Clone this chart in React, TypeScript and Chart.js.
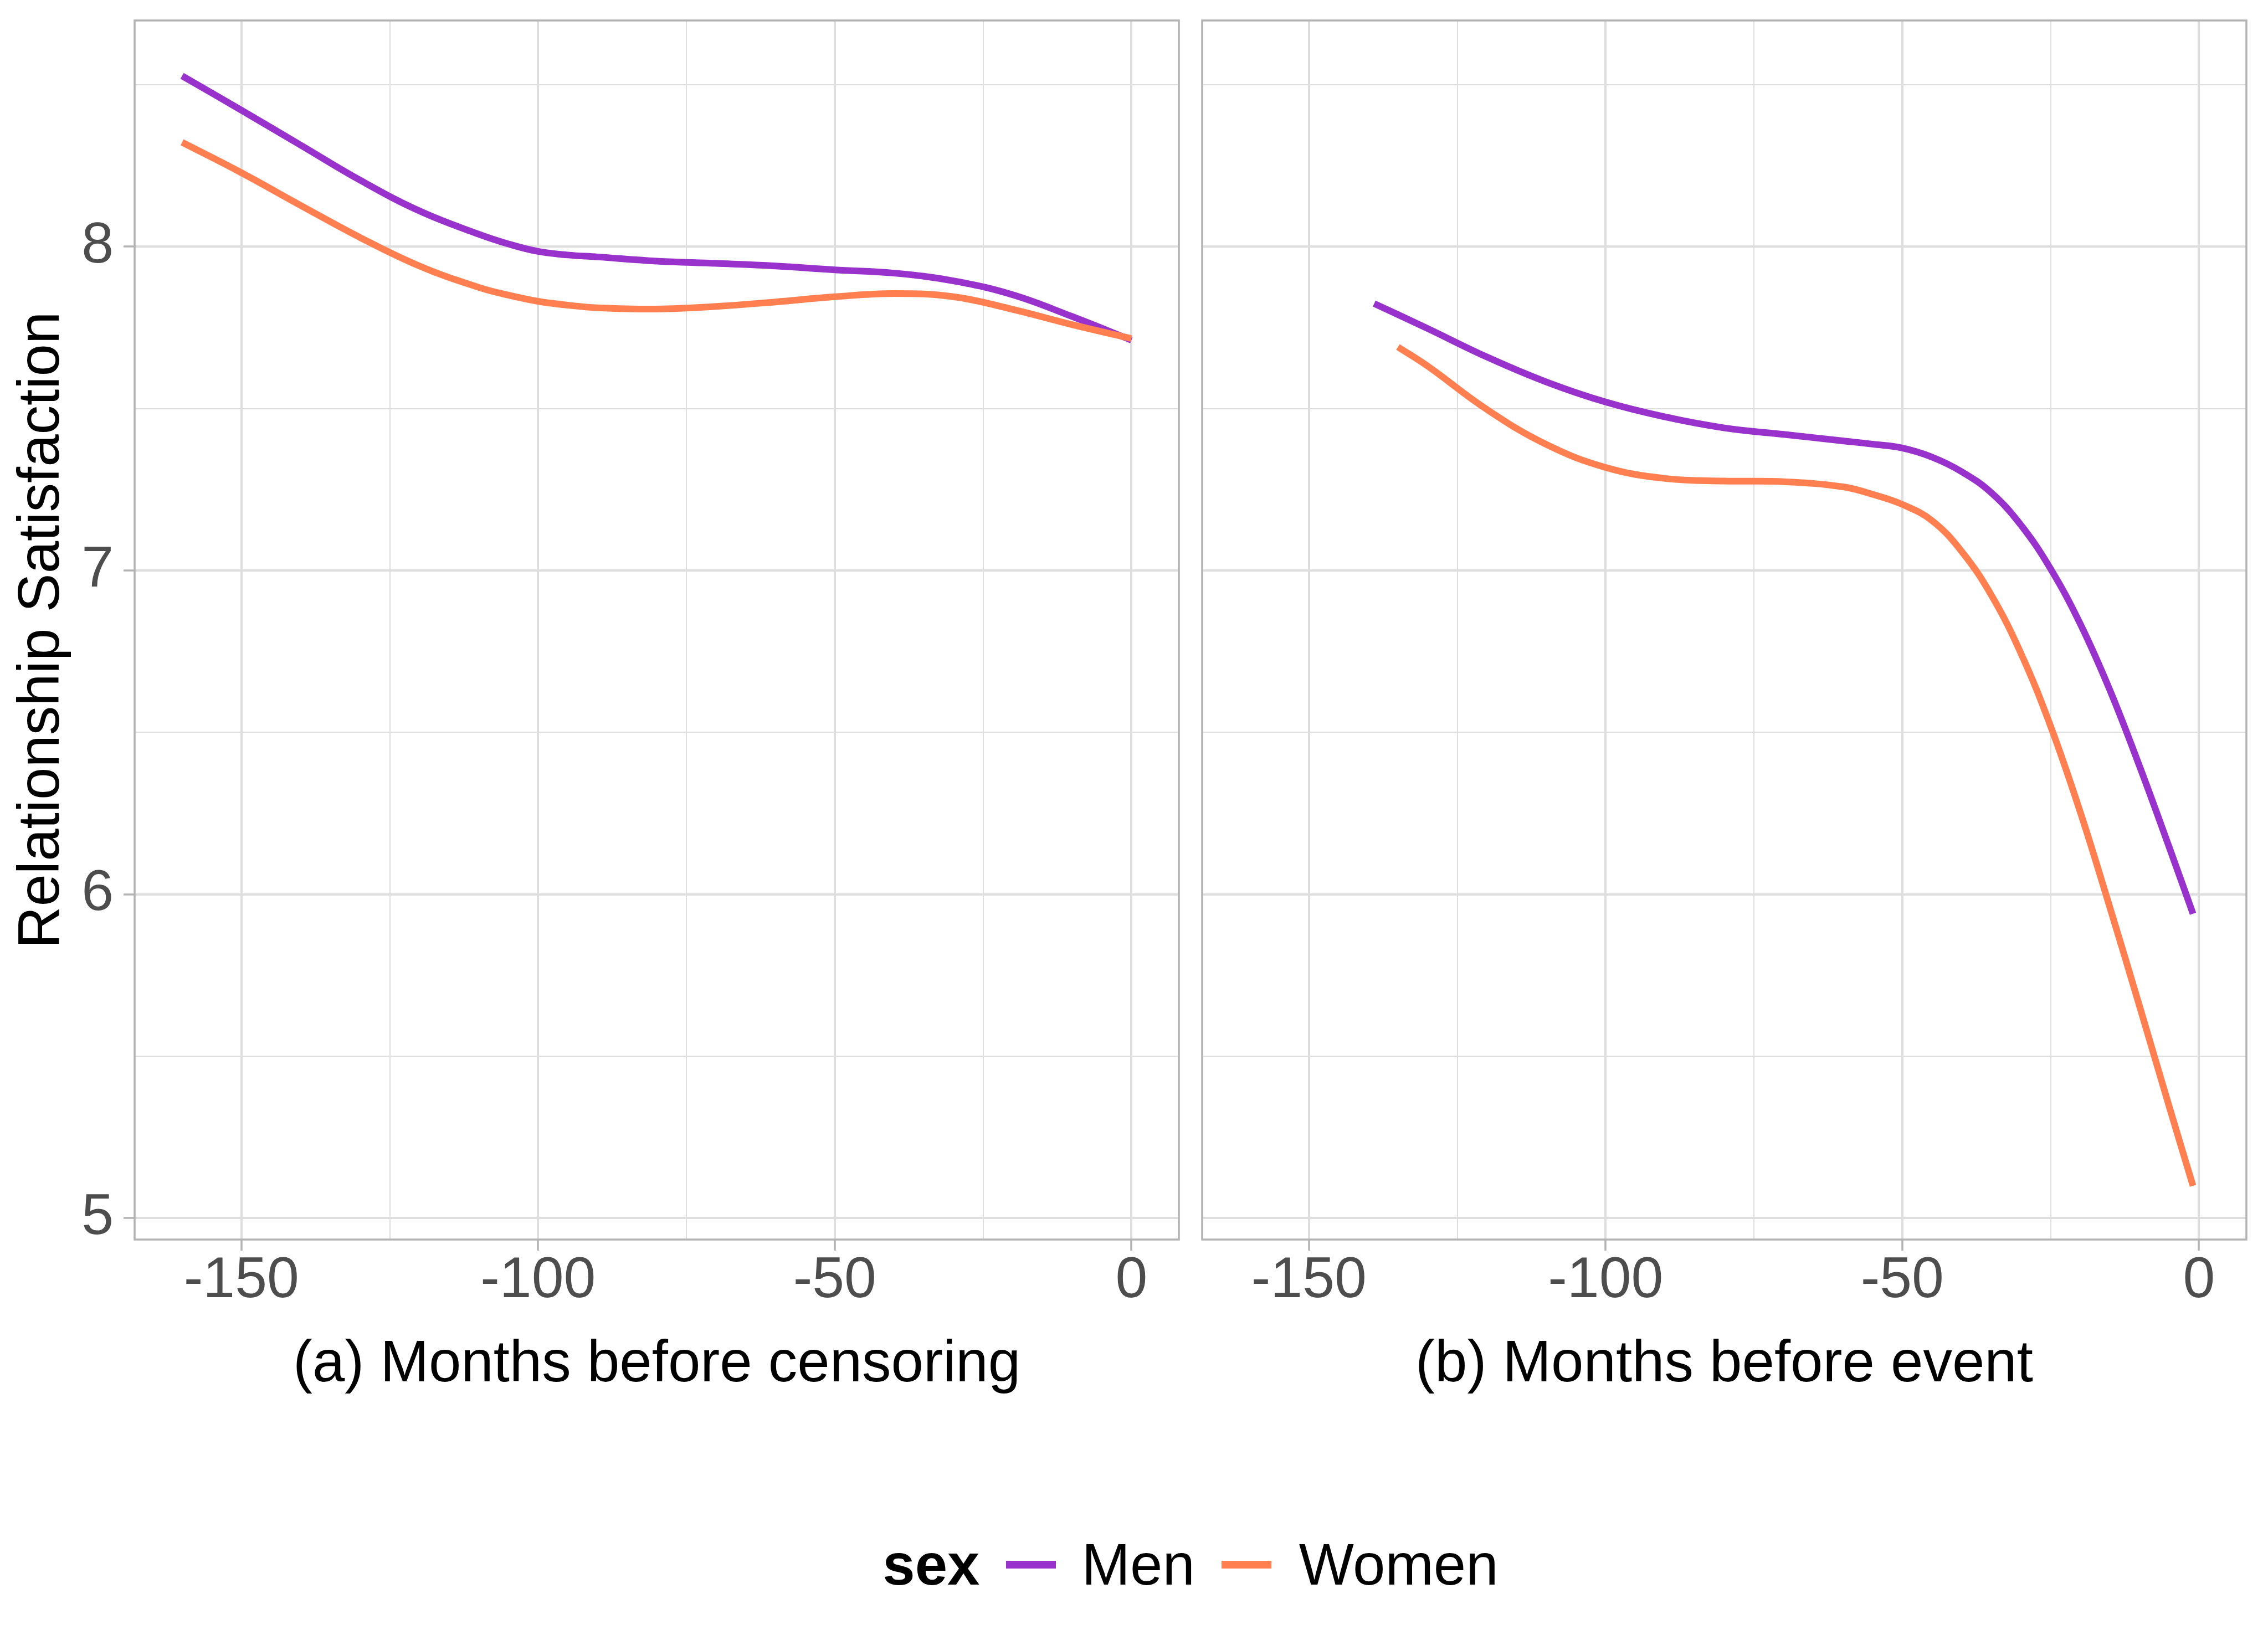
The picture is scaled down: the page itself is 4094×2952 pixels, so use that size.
import { useEffect, useRef } from "react";
import { Chart, registerables } from "chart.js";

Chart.register(...registerables);

const MEN_COLOR = "#9932CC";
const WOMEN_COLOR = "#FF7F50";
const FONT = "'Liberation Sans', Arial, sans-serif";

// (a) months before censoring
const monthsA = [-160, -150, -140, -130, -120, -110, -105, -100, -95, -90, -80, -70, -60, -50, -40, -30, -20, -10, 0];
const menA = [8.527, 8.421, 8.313, 8.205, 8.11, 8.038, 8.008, 7.985, 7.974, 7.968, 7.955, 7.948, 7.94, 7.928, 7.918, 7.894, 7.851, 7.784, 7.711];
const womenA = [8.322, 8.228, 8.127, 8.028, 7.94, 7.874, 7.85, 7.831, 7.819, 7.811, 7.807, 7.815, 7.829, 7.845, 7.855, 7.845, 7.806, 7.759, 7.716];

// (b) months before event
const monthsMenB = [-139, -130, -120, -110, -100, -90, -80, -70, -60, -55, -50, -45, -40, -35, -30, -25, -20, -15, -10, -5, -1];
const menB = [7.824, 7.747, 7.659, 7.582, 7.52, 7.474, 7.44, 7.42, 7.4, 7.39, 7.378, 7.35, 7.305, 7.24, 7.14, 7.005, 6.835, 6.63, 6.395, 6.145, 5.94];
const monthsWomenB = [-135, -130, -120, -110, -100, -90, -80, -70, -60, -55, -50, -45, -40, -35, -30, -25, -20, -15, -10, -5, -1];
const womenB = [7.69, 7.631, 7.497, 7.389, 7.318, 7.284, 7.276, 7.274, 7.258, 7.235, 7.204, 7.154, 7.059, 6.924, 6.744, 6.519, 6.254, 5.959, 5.654, 5.344, 5.1];

const xMajor = [-150, -100, -50, 0];
const xMinor = [-125, -75, -25];
const yMajor = [5, 6, 7, 8];
const yMinor = [5.5, 6.5, 7.5, 8.5];

const CANVAS_H = 2600;
const PANEL_TOP = 37;
const PANEL_BOTTOM = 2238;

const panelBorder = {
  id: "panelBorder",
  afterDraw(chart: any) {
    const { ctx, chartArea: a } = chart;
    ctx.save();
    ctx.strokeStyle = "#B3B3B3";
    ctx.lineWidth = 3.5;
    ctx.strokeRect(a.left, a.top, a.right - a.left, a.bottom - a.top);
    ctx.restore();
  },
};

const noPadding = (s: any) => {
  s.paddingLeft = 0;
  s.paddingRight = 0;
  s.paddingTop = 0;
  s.paddingBottom = 0;
};

function gridFor(major: number[], drawTicks: boolean) {
  return {
    color: "#DEDEDE",
    lineWidth: (c: any) => (major.includes(c.tick?.value) ? 4 : 2),
    tickColor: (c: any) => (major.includes(c.tick?.value) ? "#B3B3B3" : "rgba(0,0,0,0)"),
    tickLength: 20,
    tickWidth: 3.5,
    drawTicks,
  };
}

function xAxis(title: string) {
  return {
    type: "linear",
    min: -168,
    max: 8,
    afterBuildTicks: (s: any) => {
      s.ticks = [...xMajor, ...xMinor].sort((a, b) => a - b).map((value) => ({ value }));
    },
    afterFit: (s: any) => {
      s.height = CANVAS_H - PANEL_BOTTOM;
      noPadding(s);
    },
    ticks: {
      autoSkip: false,
      maxRotation: 0,
      callback: (v: any) => (xMajor.includes(v) ? String(v) : ""),
      color: "#4D4D4D",
      font: { family: FONT, size: 104, lineHeight: 1 },
      padding: 3,
    },
    grid: gridFor(xMajor, true),
    border: { display: false },
    title: {
      display: true,
      text: title,
      color: "#000000",
      font: { family: FONT, size: 105, lineHeight: 1 },
      padding: { top: 0, bottom: 82 },
    },
  };
}

function yAxis(showLabels: boolean, width: number) {
  return {
    type: "linear",
    min: 4.934,
    max: 8.698,
    afterBuildTicks: (s: any) => {
      s.ticks = [...yMajor, ...yMinor].sort((a, b) => a - b).map((value) => ({ value }));
    },
    afterFit: (s: any) => {
      s.width = width;
      noPadding(s);
    },
    ticks: {
      display: showLabels,
      autoSkip: false,
      callback: (v: any) => (yMajor.includes(v) ? String(v) : ""),
      color: "#4D4D4D",
      font: { family: FONT, size: 104, lineHeight: 1 },
      padding: 18,
    },
    grid: gridFor(yMajor, showLabels),
    border: { display: false },
    title: {
      display: showLabels,
      text: "Relationship Satisfaction",
      color: "#000000",
      font: { family: FONT, size: 105, lineHeight: 1 },
      padding: { top: 25, bottom: 0 },
    },
  };
}

function series(label: string, xs: number[], ys: number[], color: string, order: number) {
  return {
    label,
    data: xs.map((x, i) => ({ x, y: ys[i] })),
    borderColor: color,
    backgroundColor: color,
    borderWidth: 12,
    borderCapStyle: "butt",
    pointRadius: 0,
    tension: 0.4,
    fill: false,
    order,
  };
}

function makeChart(canvas: HTMLCanvasElement, datasets: any[], title: string, showY: boolean, yWidth: number, padRight: number) {
  return new Chart(canvas, {
    type: "line",
    data: { datasets },
    options: {
      animation: false,
      responsive: true,
      maintainAspectRatio: false,
      devicePixelRatio: 1,
      layout: { padding: { top: PANEL_TOP, right: padRight, left: 0, bottom: 0 } },
      plugins: { legend: { display: false }, tooltip: { enabled: false } },
      scales: { x: xAxis(title), y: yAxis(showY, yWidth) } as any,
    },
    plugins: [panelBorder],
  } as any);
}

export default function App() {
  const leftRef = useRef<HTMLCanvasElement>(null);
  const rightRef = useRef<HTMLCanvasElement>(null);

  useEffect(() => {
    document.body.style.margin = "0";
    if (!leftRef.current || !rightRef.current) return;

    const left = makeChart(
      leftRef.current,
      [series("Men", monthsA, menA, MEN_COLOR, 1), series("Women", monthsA, womenA, WOMEN_COLOR, 0)],
      "(a) Months before censoring",
      true,
      243,
      22
    );
    const right = makeChart(
      rightRef.current,
      [series("Men", monthsMenB, menB, MEN_COLOR, 1), series("Women", monthsWomenB, womenB, WOMEN_COLOR, 0)],
      "(b) Months before event",
      false,
      20,
      39
    );

    return () => {
      left.destroy();
      right.destroy();
    };
  }, []);

  const key = (color: string, ml: number, mr: number) => (
    <span style={{ display: "inline-block", width: 90, height: 14, background: color, marginLeft: ml, marginRight: mr }} />
  );

  return (
    <div style={{ position: "absolute", left: 0, top: 0, width: 4094, height: 2952, background: "#fff", overflow: "hidden" }}>
      <div style={{ position: "absolute", left: 0, top: 0, width: 2150, height: CANVAS_H }}>
        <canvas ref={leftRef} />
      </div>
      <div style={{ position: "absolute", left: 2150, top: 0, width: 1944, height: CANVAS_H }}>
        <canvas ref={rightRef} />
      </div>
      <div
        style={{
          position: "absolute",
          left: 243,
          top: 2762,
          width: 3812,
          height: 126,
          display: "flex",
          justifyContent: "center",
          alignItems: "center",
          fontFamily: FONT,
          fontSize: 105,
          lineHeight: "126px",
          color: "#000",
          whiteSpace: "nowrap",
        }}
      >
        <b>sex</b>
        {key(MEN_COLOR, 47, 47)}
        <span>Men</span>
        {key(WOMEN_COLOR, 48, 50)}
        <span>Women</span>
      </div>
    </div>
  );
}
